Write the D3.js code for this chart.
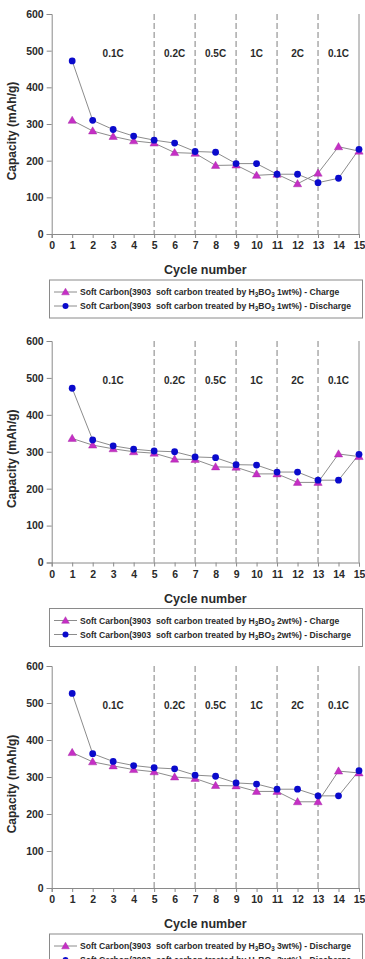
<!DOCTYPE html>
<html><head><meta charset="utf-8">
<script src="https://cdn.jsdelivr.net/npm/d3@7"></script>
<style>body{margin:0;background:#fff}svg{display:block}</style>
</head><body>
<script>
const cycles = [1,2,3,4,5,6,7,8,9,10,11,12,13,14,15];
const charge1 = [310,281,266,254,248,222,220,187,188,160,163,137,166,238,226];
const discharge1 = [472,310,285,267,256,248,225,223,192,192,163,163,140,152,231];
const charge2 = [336,318,308,300,296,280,279,259,258,240,240,217,217,294,287];
const discharge2 = [472,332,316,307,302,300,286,284,265,264,245,245,223,223,293];
const charge3 = [366,341,330,320,314,300,296,277,276,261,261,233,233,316,311];
const discharge3 = [526,363,342,331,325,322,305,302,284,281,267,267,249,249,317];
const xTicks = [0,1,2,3,4,5,6,7,8,9,10,11,12,13,14,15];
const yTicks = [0,100,200,300,400,500,600];
const rateBounds = [5,7,9,11,13];
const rateLabels = ["0.1C","0.2C","0.5C","1C","2C","0.1C"];
const rateCenters = [3,6,8,10,12,14];
const legend1 = ["1wt%) - Charge","1wt%) - Discharge"];
const legend2 = ["2wt%) - Charge","2wt%) - Discharge"];
const legend3 = ["3wt%) - Discharge","3wt%) - Discharge"];

const W = 365, H = 959;
const svg = d3.select("body").append("svg").attr("width",W).attr("height",H);
const font = "'Liberation Sans', Arial, sans-serif";
const axisCol = "#8a8a8a", textCol = "#2a2a2a";

const panels = [
  {top:14, bottom:234, charge:charge1, discharge:discharge1, legend:legend1},
  {top:341, bottom:562.5, charge:charge2, discharge:discharge2, legend:legend2},
  {top:666, bottom:888, charge:charge3, discharge:discharge3, legend:legend3}
];

const x = d3.scaleLinear().domain([0,15]).range([51.7,359]);

function tri(g, cx, cy, s){
  g.append("path").attr("d", d3.symbol().type(d3.symbolTriangle).size(s)())
   .attr("transform",`translate(${cx},${cy+0.6})`)
   .attr("fill","#c52fc5").attr("stroke","#a01fa0").attr("stroke-width",0.4);
}
function dot(g, cx, cy, r){
  g.append("circle").attr("cx",cx).attr("cy",cy).attr("r",r).attr("fill","#0a0acc");
}

panels.forEach(p => {
  const y = d3.scaleLinear().domain([0,600]).range([p.bottom,p.top]);
  const g = svg.append("g");

  g.selectAll("line.rb").data(rateBounds).join("line")
    .attr("x1",d=>x(d)).attr("x2",d=>x(d)).attr("y1",y(600)).attr("y2",y(0))
    .attr("stroke","#8c8c8c").attr("stroke-width",1.1).attr("stroke-dasharray","6,3");

  g.append("line").attr("x1",x(15)).attr("x2",x(15)).attr("y1",y(600)).attr("y2",y(0))
    .attr("stroke",axisCol).attr("stroke-width",1);

  const yAx = g.append("g").attr("transform",`translate(${x(0)},0)`)
    .call(d3.axisLeft(y).tickValues(yTicks).tickSize(5).tickPadding(3));
  const xAx = g.append("g").attr("transform",`translate(0,${y(0)})`)
    .call(d3.axisBottom(x).tickValues(xTicks).tickSize(4).tickPadding(4));
  [yAx,xAx].forEach(a=>{
    a.select(".domain").attr("stroke",axisCol);
    a.selectAll(".tick line").attr("stroke",axisCol);
    a.selectAll(".tick text").attr("fill",textCol).attr("font-family",font)
      .attr("font-weight","bold").attr("font-size","10.5px");
  });

  g.selectAll("text.rl").data(rateLabels).join("text")
    .attr("x",(d,i)=>x(rateCenters[i])).attr("y",y(493)).attr("dy","0.35em")
    .attr("text-anchor","middle").attr("font-family",font).attr("font-weight","bold")
    .attr("font-size","10px").attr("fill",textCol).text(d=>d);

  const line = d3.line().x((d,i)=>x(cycles[i])).y(d=>y(d));
  g.append("path").datum(p.charge).attr("d",line).attr("fill","none").attr("stroke","#8c8c8c").attr("stroke-width",1);
  g.append("path").datum(p.discharge).attr("d",line).attr("fill","none").attr("stroke","#8c8c8c").attr("stroke-width",1);

  p.charge.forEach((v,i)=>tri(g, x(cycles[i]), y(v), 30));
  p.discharge.forEach((v,i)=>dot(g, x(cycles[i]), y(v), 3.4));

  g.append("text").attr("x",(x(0)+x(15))/2).attr("y",y(0)+36).attr("dy","0.35em")
    .attr("text-anchor","middle").attr("font-family",font).attr("font-weight","bold")
    .attr("font-size","12.5px").attr("fill",textCol).text("Cycle number");
  g.append("text").attr("transform",`translate(11.5,${(p.top+p.bottom)/2+7}) rotate(-90)`)
    .attr("dy","0.35em").attr("text-anchor","middle").attr("font-family",font)
    .attr("font-weight","bold").attr("font-size","12px").attr("fill",textCol).text("Capacity (mAh/g)");

  const ly = y(0)+46;
  g.append("rect").attr("x",49.5).attr("y",ly).attr("width",313).attr("height",38)
    .attr("fill","#fff").attr("stroke",axisCol).attr("stroke-width",1);
  p.legend.forEach((lab,i)=>{
    const yy = ly + 12 + i*14;
    g.append("line").attr("x1",54).attr("x2",77).attr("y1",yy).attr("y2",yy)
      .attr("stroke","#8c8c8c").attr("stroke-width",1);
    if(i===0) tri(g,65.5,yy,26); else dot(g,65.5,yy,3);
    const t = g.append("text").attr("x",80).attr("y",yy).attr("dy","0.35em")
      .attr("font-family",font).attr("font-weight","bold").attr("font-size","8.6px")
      .attr("fill",textCol).attr("xml:space","preserve");
    t.append("tspan").text("Soft Carbon(3903  soft carbon treated by H");
    t.append("tspan").attr("font-size","6.3px").attr("dy","2").text("3");
    t.append("tspan").attr("dy","-2").text("BO");
    t.append("tspan").attr("font-size","6.3px").attr("dy","2").text("3");
    t.append("tspan").attr("dy","-2").text(" " + lab);
  });
});
</script>
</body></html>
